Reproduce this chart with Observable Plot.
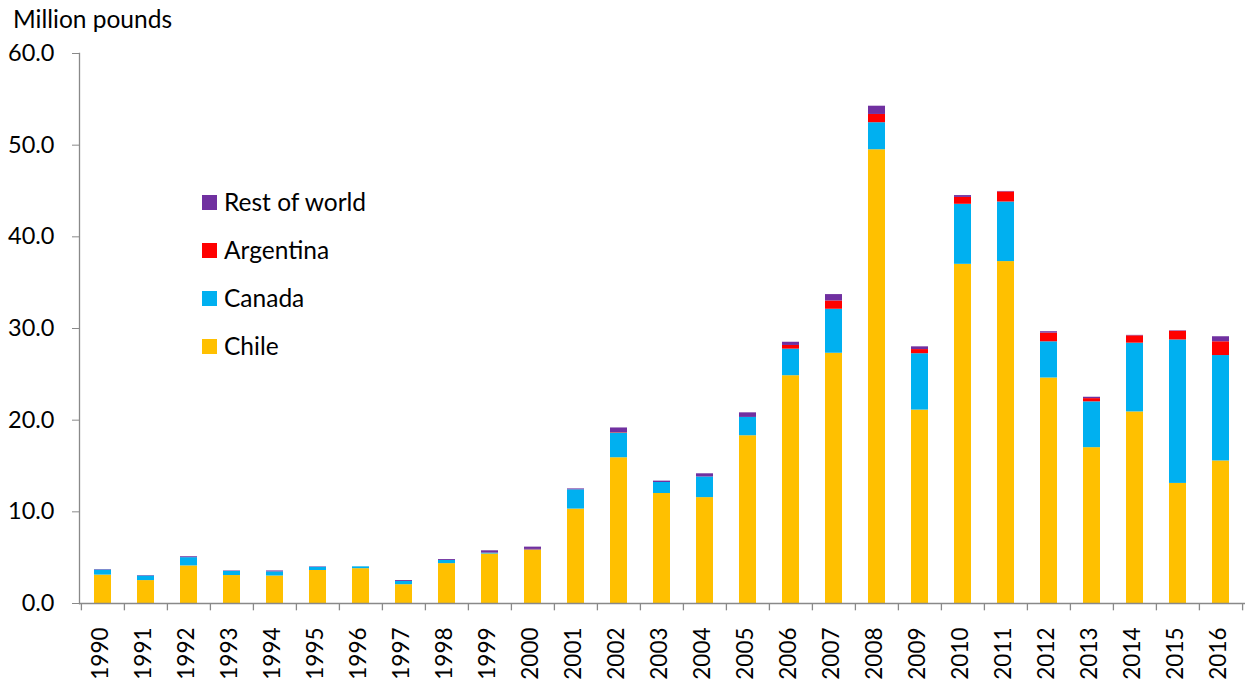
<!DOCTYPE html>
<html><head><meta charset="utf-8">
<script src="https://cdn.jsdelivr.net/npm/d3@7"></script>
<script src="https://cdn.jsdelivr.net/npm/@observablehq/plot@0.6"></script>
<style>
body{margin:0;background:#fff;font-family:Lato,"Open Sans",sans-serif;}
#wrap{position:relative;width:1246px;height:683px;overflow:hidden;}
#ylab{position:absolute;left:13px;top:5px;font-size:24.5px;line-height:28px;color:#000;}
#legend{position:absolute;left:202px;top:188px;}
.li{position:absolute;left:0;height:28px;width:240px;font-size:24.5px;line-height:28px;color:#000;white-space:nowrap;}
.sw{position:absolute;left:0;top:7px;width:15px;height:15px;}
.lt{position:absolute;left:22px;top:0;}
</style></head><body><div id="wrap"><div id="ylab">Million pounds</div><div id="legend"></div></div>
<script>
const years = ["1990","1991","1992","1993","1994","1995","1996","1997","1998","1999","2000","2001","2002","2003","2004","2005","2006","2007","2008","2009","2010","2011","2012","2013","2014","2015","2016"];
const chile     = [3.1,2.5,4.1,3.05,3.0,3.6,3.8,2.05,4.35,5.4,5.8,10.3,15.9,12.0,11.55,18.3,24.85,27.3,49.5,21.1,37.0,37.3,24.6,17.0,20.9,13.1,15.55];
const canada    = [0.55,0.5,0.9,0.45,0.45,0.35,0.2,0.35,0.35,0.1,0.05,2.1,2.7,1.2,2.25,2.0,2.9,4.8,2.95,6.15,6.55,6.5,3.95,5.0,7.5,15.65,11.5];
const argentina = [0,0,0,0,0,0,0,0,0,0,0.05,0,0.05,0,0,0,0.4,0.9,0.9,0.45,0.75,1.1,0.95,0.35,0.8,0.95,1.5];
const restOfWorld = [0.05,0.05,0.1,0.05,0.1,0.05,0,0.1,0.1,0.25,0.25,0.1,0.5,0.15,0.35,0.5,0.35,0.7,0.9,0.3,0.2,0.05,0.15,0.15,0.05,0.05,0.55];
const seriesNames = ["Chile","Canada","Argentina","Rest of world"];
const seriesColors = ["#FFC000","#00B0F0","#FF0000","#7030A0"];
const yTicks = [0,10,20,30,40,50,60];

const seriesValues = [chile, canada, argentina, restOfWorld];
const table = [];
years.forEach((yr, i) => {
  seriesNames.forEach((s, k) => table.push({year: yr, series: s, value: seriesValues[k][i]}));
});

const W = 1246, H = 683, ML = 79, MR = 1, MT = 53, MB = 80;
const step = (W - ML - MR) / years.length;
const axisGray = "#898989";

const chart = Plot.plot({
  width: W, height: H,
  marginLeft: ML, marginRight: MR, marginTop: MT, marginBottom: MB,
  style: {fontFamily: "Lato, 'Open Sans', sans-serif", fontSize: "23.5px", color: "#000", background: "white"},
  x: {domain: years, paddingInner: 0.6, paddingOuter: 0.3, label: null},
  y: {domain: [0, 60], label: null},
  color: {domain: seriesNames, range: seriesColors},
  marks: [
    Plot.barY(table, {x: "year", y: "value", fill: "series"}),
    Plot.ruleY([0], {stroke: axisGray, strokeWidth: 1.3}),
    Plot.frame({anchor: "left", stroke: axisGray, strokeWidth: 1.3}),
    Plot.ruleX(years, {x: d => d, dx: -step / 2, y1: 0, y2: -0.8, stroke: axisGray, strokeWidth: 1.3}),
    Plot.ruleX(years.slice(-1), {x: d => d, dx: step / 2, y1: 0, y2: -0.8, stroke: axisGray, strokeWidth: 1.3}),
    Plot.axisY({ticks: yTicks, tickSize: 7, tickPadding: 18, tickFormat: d3.format(".1f"), stroke: axisGray, fill: "#000", label: null}),
    Plot.axisX({tickSize: 0, tickPadding: 24, tickRotate: -90, fill: "#000", fontSize: "22.5px", label: null, dx: -2})
  ]
});
document.getElementById("wrap").prepend(chart);

const legendOrder = ["Rest of world","Argentina","Canada","Chile"];
const leg = document.getElementById("legend");
legendOrder.forEach((name, i) => {
  const row = document.createElement("div");
  row.className = "li";
  row.style.top = (i * 48) + "px";
  const sw = document.createElement("div");
  sw.className = "sw";
  sw.style.background = seriesColors[seriesNames.indexOf(name)];
  const t = document.createElement("div");
  t.className = "lt";
  t.textContent = name;
  row.appendChild(sw); row.appendChild(t);
  leg.appendChild(row);
});
</script>
</body></html>
